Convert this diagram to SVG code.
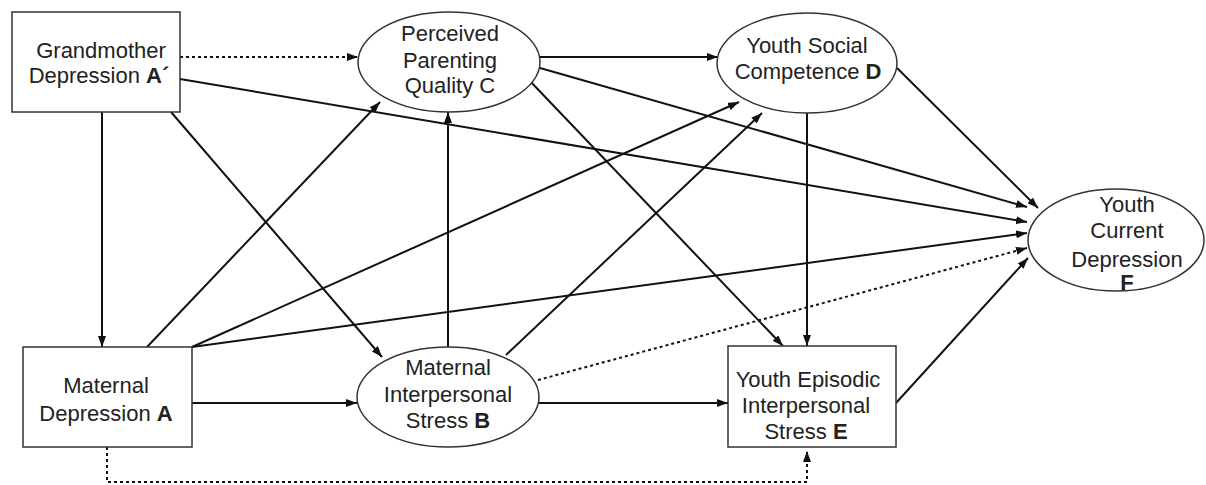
<svg xmlns="http://www.w3.org/2000/svg" width="1206" height="485" viewBox="0 0 1206 485">
<style>
.node{fill:#fff;stroke:#333;stroke-width:1.5}
.t{font-family:"Liberation Sans",Arial,sans-serif;font-size:22px;fill:#222;text-anchor:middle}
.b{font-weight:bold}
.e{fill:none;stroke:#111;stroke-width:2}
.d{stroke-dasharray:3 3}
</style>
<defs>
<marker id="ah" markerUnits="userSpaceOnUse" markerWidth="11" markerHeight="8" refX="11" refY="4" orient="auto">
<path d="M0,0 L11,4 L0,8 z" fill="#111"/>
</marker>
</defs>
<rect width="1206" height="485" fill="#fff"/>
<g id="connectors">
<path class="e d" d="M180,57 L358,57" marker-end="url(#ah)"/>
<path class="e" d="M180,79 L1027,222" marker-end="url(#ah)"/>
<path class="e" d="M102,112 L102,347" marker-end="url(#ah)"/>
<path class="e" d="M171,112 L382,357" marker-end="url(#ah)"/>
<path class="e" d="M147,347 L380,102" marker-end="url(#ah)"/>
<path class="e" d="M192,347 L739,102" marker-end="url(#ah)"/>
<path class="e" d="M192,347 L1027,233" marker-end="url(#ah)"/>
<path class="e" d="M192,403 L357,403" marker-end="url(#ah)"/>
<path class="e d" d="M107,447 V482 H807 V451" marker-end="url(#ah)"/>
<path class="e" d="M448,347 L448,112" marker-end="url(#ah)"/>
<path class="e" d="M506,355 L762,113" marker-end="url(#ah)"/>
<path class="e" d="M539,403 L728,403" marker-end="url(#ah)"/>
<path class="e d" d="M538,380 L1027,248" marker-end="url(#ah)"/>
<path class="e" d="M540,57 L718,57" marker-end="url(#ah)"/>
<path class="e" d="M540,68 L1027,207" marker-end="url(#ah)"/>
<path class="e" d="M529,80 L783,346" marker-end="url(#ah)"/>
<path class="e" d="M897,68 L1038,208" marker-end="url(#ah)"/>
<path class="e" d="M807,113 L807,346" marker-end="url(#ah)"/>
<path class="e" d="M896,403 L1028,258" marker-end="url(#ah)"/>
</g>
<g id="nodeA2">
<rect class="node" x="12" y="12" width="168" height="100"/>
<text class="t" x="101" y="58">Grandmother</text>
<text class="t" x="99" y="83">Depression <tspan class="b">A´</tspan></text>
</g>
<g id="nodeA">
<rect class="node" x="23" y="347" width="169" height="100"/>
<text class="t" x="106" y="393">Maternal</text>
<text class="t" x="106" y="421">Depression <tspan class="b">A</tspan></text>
</g>
<g id="nodeB">
<ellipse class="node" cx="448" cy="397" rx="91" ry="50"/>
<text class="t" x="448" y="375">Maternal</text>
<text class="t" x="448" y="402">Interpersonal</text>
<text class="t" x="448" y="428">Stress <tspan class="b">B</tspan></text>
</g>
<g id="nodeC">
<ellipse class="node" cx="449" cy="62" rx="91" ry="50"/>
<text class="t" x="450" y="41">Perceived</text>
<text class="t" x="450" y="68">Parenting</text>
<text class="t" x="450" y="93">Quality C</text>
</g>
<g id="nodeD">
<ellipse class="node" cx="807" cy="63" rx="90" ry="50"/>
<text class="t" x="807" y="53">Youth Social</text>
<text class="t" x="808" y="79">Competence <tspan class="b">D</tspan></text>
</g>
<g id="nodeE">
<rect class="node" x="728" y="346" width="168" height="101"/>
<text class="t" x="808" y="387">Youth Episodic</text>
<text class="t" x="806" y="413">Interpersonal</text>
<text class="t" x="806" y="439">Stress <tspan class="b">E</tspan></text>
</g>
<g id="nodeF">
<ellipse class="node" cx="1116" cy="240" rx="88" ry="51"/>
<text class="t" x="1127" y="212">Youth</text>
<text class="t" x="1127" y="238">Current</text>
<text class="t" x="1127" y="267">Depression</text>
<text class="t b" x="1127" y="290">F</text>
</g>
</svg>
